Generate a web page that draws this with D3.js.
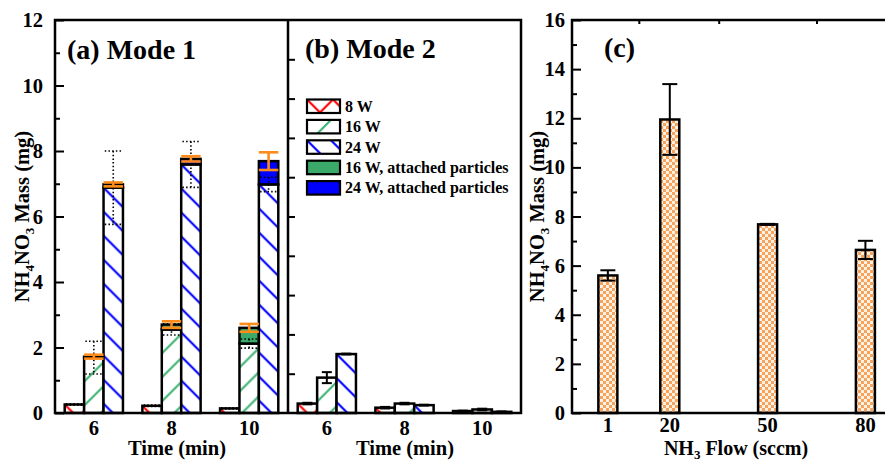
<!DOCTYPE html>
<html>
<head>
<meta charset="utf-8">
<script src="https://cdn.jsdelivr.net/npm/d3@7"></script>
<style>
  body { margin: 0; background: #fff; }
  svg { display: block; }
  text { font-family: "Liberation Serif", "Times New Roman", serif; font-weight: bold; fill: #000; }
</style>
</head>
<body>
<svg id="chart" width="885" height="460"></svg>
<script>
// ---- data -------------------------------------------------------------
const times = ["6", "8", "10"];
const powers = ["8 W", "16 W", "24 W"];

// Mode 1: hatched = deposit mass, solid = attached particles stacked on top
const m1_8W        = [0.26, 0.22, 0.14];
const m1_8W_err    = [0.02, 0.02, 0.02];
const m1_16W       = [1.69, 2.55, 2.12];
const m1_16W_err   = [0.50, 0.17, 0.14];
const m1_16W_att   = [0.03, 0.15, 0.48];
const m1_16W_totErr = [0.06, 0.10, 0.12];
const m1_24W       = [6.88, 7.59, 6.98];
const m1_24W_err   = [1.12, 0.70, 0.22];
const m1_24W_att   = [0.10, 0.17, 0.71];
const m1_24W_totErr = [0.06, 0.08, 0.27];

// Mode 2
const m2_8W      = [0.24, 0.135, 0.05];
const m2_16W     = [0.90, 0.24, 0.09];
const m2_24W     = [1.50, 0.20, 0.03];
const m2_8W_err  = [0.02, 0.02, 0.01];
const m2_16W_err = [0.14, 0.02, 0.02];
const m2_24W_err = [0.01, 0.01, 0.01];

// (c) NH3 flow series
const flows    = [1, 20, 50, 80];
const flowMass = [5.60, 11.95, 7.68, 6.64];
const flowErr  = [0.21, 1.44, 0.02, 0.37];

const yTicksA = [0, 2, 4, 6, 8, 10, 12];
const yMinorA = [1, 3, 5, 7, 9, 11];
const yTicksB = [1, 2, 3, 4, 5, 6, 7, 8, 9];
const yTicksC = [0, 2, 4, 6, 8, 10, 12, 14, 16];
const yMinorC = [1, 3, 5, 7, 9, 11, 13, 15];

const legendItems = [
  { label: "8 W", kind: "red" },
  { label: "16 W", kind: "green" },
  { label: "24 W", kind: "blue" },
  { label: "16 W, attached particles", kind: "greenFill" },
  { label: "24 W, attached particles", kind: "blueFill" }
];

// ---- layout -----------------------------------------------------------
const TOP = 20, BOT = 413;
const A_L = 55, A_R = 288, B_R = 521;
const C_L = 572, C_R = 898;
const FRAME_W = 2.5;
const TICK_FONT = 20.5;

const COLORS = { red: "#ff0000", green: "#3cb371", blue: "#0000ff",
                 greenFill: "#3aa96a", blueFill: "#0000ff", orange: "#ff8c1a",
                 checker: "#f8a35c" };

const svg = d3.select("#chart");
const defs = svg.append("defs");

// ---- hatch patterns, each anchored at the top-left of its shape -------
let patId = 0;
function hatch(kind, x0, y0) {
  const id = "hp" + (patId++);
  let size, d;
  if (kind === "red") {
    size = 26;
    d = "M0,0L13,13L26,0M0,26L13,13L26,26";
  } else if (kind === "green") {
    size = 24;
    d = "M0,24L24,0M-6,6L6,-6M18,30L30,18";
  } else {
    size = 24;
    d = "M0,0L24,24M-6,18L6,30M18,-6L30,6";
  }
  const p = defs.append("pattern").attr("id", id)
    .attr("patternUnits", "userSpaceOnUse")
    .attr("x", x0).attr("y", y0).attr("width", size).attr("height", size);
  p.append("rect").attr("width", size).attr("height", size).attr("fill", "#fff");
  p.append("path").attr("d", d).attr("fill", "none")
    .attr("stroke", COLORS[kind]).attr("stroke-width", 2.1);
  return "url(#" + id + ")";
}

function fillFor(kind, x0, y0) {
  if (kind === "greenFill" || kind === "blueFill") return COLORS[kind];
  return hatch(kind, x0, y0);
}

// checker fill for panel (c)
const chk = defs.append("pattern").attr("id", "checker")
  .attr("patternUnits", "userSpaceOnUse").attr("width", 6).attr("height", 6);
chk.append("rect").attr("width", 6).attr("height", 6).attr("fill", "#fff1e4");
chk.append("rect").attr("width", 3).attr("height", 3).attr("fill", COLORS.checker);
chk.append("rect").attr("x", 3).attr("y", 3).attr("width", 3).attr("height", 3).attr("fill", COLORS.checker);

// ---- scales -----------------------------------------------------------
const xA = d3.scaleBand().domain(times).range([A_L, A_R]).paddingInner(0.25).paddingOuter(0.125);
const xB = d3.scaleBand().domain(times).range([A_R, B_R]).paddingInner(0.25).paddingOuter(0.125);
const xSub = d3.scaleBand().domain(powers).range([0, xA.bandwidth()]);
const yA = d3.scaleLinear().domain([0, 12]).range([BOT, TOP]);
const yB = d3.scaleLinear().domain([0, 10]).range([BOT, TOP]);
const xC = d3.scaleLinear().domain([-10, 90]).range([C_L, C_R]);
const yC = d3.scaleLinear().domain([0, 16]).range([BOT, TOP]);

const bw = xSub.bandwidth();

// ---- generic drawing helpers -----------------------------------------
function drawRect(g, x, yTop, yBottom, fill) {
  g.append("rect")
    .attr("x", x).attr("y", yTop)
    .attr("width", bw).attr("height", Math.max(0, yBottom - yTop))
    .attr("fill", fill).attr("stroke", "#000").attr("stroke-width", 2.5);
}

function errBar(g, cx, y, v, e, half, style) {
  const y1 = y(v + e), y2 = y(v - e);
  const s = g.append("g").attr("fill", "none");
  if (style === "dotted") {
    s.attr("stroke", "#000").attr("stroke-width", 1.6).attr("stroke-dasharray", "1.5,2.2");
  } else if (style === "orange") {
    s.attr("stroke", COLORS.orange).attr("stroke-width", 2.6);
  } else {
    s.attr("stroke", "#000").attr("stroke-width", 2);
  }
  s.append("line").attr("x1", cx).attr("x2", cx).attr("y1", y1).attr("y2", y2);
  s.append("line").attr("x1", cx - half).attr("x2", cx + half).attr("y1", y1).attr("y2", y1);
  s.append("line").attr("x1", cx - half).attr("x2", cx + half).attr("y1", y2).attr("y2", y2);
}

// ---- panel (a): Mode 1 -------------------------------------------------
const gA = svg.append("g");
const gAerr = svg.append("g");
const seriesA = [
  { key: "8 W",  kind: "red",   base: m1_8W,  err: m1_8W_err,  att: null,       attKind: null,        tot: null },
  { key: "16 W", kind: "green", base: m1_16W, err: m1_16W_err, att: m1_16W_att, attKind: "greenFill", tot: m1_16W_totErr },
  { key: "24 W", kind: "blue",  base: m1_24W, err: m1_24W_err, att: m1_24W_att, attKind: "blueFill",  tot: m1_24W_totErr }
];
const orangeLayer = [];
seriesA.forEach(s => {
  times.forEach((t, i) => {
    const x = xA(t) + xSub(s.key);
    const cx = x + bw / 2;
    const yb = yA(s.base[i]);
    drawRect(gA, x, yb, yA(0), fillFor(s.kind, x, yb));
    if (s.att) {
      const total = s.base[i] + s.att[i];
      drawRect(gA, x, yA(total), yb, COLORS[s.attKind]);
      orangeLayer.push({ cx, total, e: s.tot[i] });
    }
    errBar(gAerr, cx, yA, s.base[i], s.err[i], 8.5, "dotted");
  });
});
orangeLayer.forEach(o => errBar(gAerr, o.cx, yA, o.total, o.e, bw / 2, "orange"));

// ---- panel (b): Mode 2 -------------------------------------------------
const gB = svg.append("g");
const seriesB = [
  { key: "8 W",  kind: "red",   v: m2_8W,  e: m2_8W_err },
  { key: "16 W", kind: "green", v: m2_16W, e: m2_16W_err },
  { key: "24 W", kind: "blue",  v: m2_24W, e: m2_24W_err }
];
seriesB.forEach(s => {
  times.forEach((t, i) => {
    const x = xB(t) + xSub(s.key);
    const yt = yB(s.v[i]);
    drawRect(gB, x, yt, yB(0), fillFor(s.kind, x, yt));
  });
});
seriesB.forEach(s => {
  times.forEach((t, i) => {
    const cx = xB(t) + xSub(s.key) + bw / 2;
    errBar(gB, cx, yB, s.v[i], s.e[i], 5, "solid");
  });
});

// ---- panel (c): NH3 flow ----------------------------------------------
const gC = svg.append("g");
const bwC = 19;
flows.forEach((f, i) => {
  gC.append("rect")
    .attr("x", xC(f) - bwC / 2).attr("y", yC(flowMass[i]))
    .attr("width", bwC).attr("height", yC(0) - yC(flowMass[i]))
    .attr("fill", "url(#checker)").attr("stroke", "#000").attr("stroke-width", 2.5);
});
flows.forEach((f, i) => errBar(gC, xC(f), yC, flowMass[i], flowErr[i], 7.5, "solid"));

// ---- frames ------------------------------------------------------------
svg.append("rect").attr("x", A_L).attr("y", TOP)
  .attr("width", B_R - A_L).attr("height", BOT - TOP)
  .attr("fill", "none").attr("stroke", "#000").attr("stroke-width", FRAME_W);
svg.append("line").attr("x1", A_R).attr("x2", A_R).attr("y1", TOP).attr("y2", BOT)
  .attr("stroke", "#000").attr("stroke-width", FRAME_W);
svg.append("path").attr("d", `M${C_R},${TOP}H${C_L}V${BOT}H${C_R}`)
  .attr("fill", "none").attr("stroke", "#000").attr("stroke-width", FRAME_W);

// ---- axes --------------------------------------------------------------
function styleAxis(g) {
  g.select(".domain").remove();
  g.selectAll(".tick line").attr("stroke", "#000").attr("stroke-width", 2);
  g.selectAll(".tick text").attr("font-size", TICK_FONT)
    .attr("font-family", "\"Liberation Serif\", \"Times New Roman\", serif")
    .attr("font-weight", "bold");
}

svg.append("g").attr("transform", `translate(${A_L},0)`)
  .call(d3.axisLeft(yA).tickValues(yTicksA).tickSizeInner(-9).tickSizeOuter(0).tickPadding(12))
  .call(styleAxis);
svg.append("g").attr("transform", `translate(${A_L},0)`)
  .call(d3.axisLeft(yA).tickValues(yMinorA).tickSize(-5).tickFormat(""))
  .call(styleAxis);
svg.append("g").attr("transform", `translate(${A_R},0)`)
  .call(d3.axisLeft(yB).tickValues(yTicksB).tickSize(-7).tickFormat(""))
  .call(styleAxis);
svg.append("g").attr("transform", `translate(${C_L},0)`)
  .call(d3.axisLeft(yC).tickValues(yTicksC).tickSizeInner(-9).tickSizeOuter(0).tickPadding(7))
  .call(styleAxis);
svg.append("g").attr("transform", `translate(${C_L},0)`)
  .call(d3.axisLeft(yC).tickValues(yMinorC).tickSize(-5).tickFormat(""))
  .call(styleAxis);
// small ticks on the top edge of (c), between the flow categories
svg.append("g").attr("transform", `translate(0,${TOP})`)
  .call(d3.axisTop(xC).tickValues(d3.pairs(flows).map(p => (p[0] + p[1]) / 2)).tickSize(-4).tickFormat(""))
  .call(styleAxis);

// category labels
svg.append("g").selectAll("text").data(times).join("text")
  .attr("x", d => xA(d) + xA.bandwidth() / 2).attr("y", 435)
  .attr("text-anchor", "middle").attr("font-size", TICK_FONT).text(d => d);
svg.append("g").selectAll("text").data(times).join("text")
  .attr("x", d => xB(d) + xB.bandwidth() / 2).attr("y", 435)
  .attr("text-anchor", "middle").attr("font-size", TICK_FONT).text(d => d);
svg.append("g").selectAll("text").data(flows).join("text")
  .attr("x", d => xC(d)).attr("y", 432)
  .attr("text-anchor", "middle").attr("font-size", TICK_FONT).text(d => d);

// axis titles
svg.append("text").attr("x", 177).attr("y", 455).attr("text-anchor", "middle")
  .attr("font-size", 20.5).text("Time (min)");
svg.append("text").attr("x", 405).attr("y", 455).attr("text-anchor", "middle")
  .attr("font-size", 20.5).text("Time (min)");
const xtC = svg.append("text").attr("x", 736).attr("y", 454.5).attr("text-anchor", "middle")
  .attr("font-size", 20);
xtC.append("tspan").text("NH");
xtC.append("tspan").attr("font-size", 13).attr("dy", 4).text("3");
xtC.append("tspan").attr("dy", -4).text(" Flow (sccm)");

function massLabel(x) {
  const t = svg.append("text")
    .attr("transform", `translate(${x},${(TOP + BOT) / 2}) rotate(-90)`)
    .attr("text-anchor", "middle").attr("font-size", 20.5);
  t.append("tspan").text("NH");
  t.append("tspan").attr("font-size", 13).attr("dy", 5).text("4");
  t.append("tspan").attr("dy", -5).text("NO");
  t.append("tspan").attr("font-size", 13).attr("dy", 5).text("3");
  t.append("tspan").attr("dy", -5).text(" Mass (mg)");
}
massLabel(29);
massLabel(544);

// panel titles
svg.append("text").attr("x", 67).attr("y", 59).attr("font-size", 28).text("(a) Mode 1");
svg.append("text").attr("x", 305).attr("y", 58).attr("font-size", 28).text("(b) Mode 2");
svg.append("text").attr("x", 604).attr("y", 57).attr("font-size", 28).text("(c)");

// ---- legend ------------------------------------------------------------
const LX = 307, LY = 99.5, LW = 33, LH = 13.5, LSTEP = 20.4;
legendItems.forEach((d, i) => {
  const y = LY + i * LSTEP;
  svg.append("rect").attr("x", LX).attr("y", y).attr("width", LW).attr("height", LH)
    .attr("fill", fillFor(d.kind, LX, y)).attr("stroke", "#000").attr("stroke-width", 2.2);
  svg.append("text").attr("x", LX + LW + 5).attr("y", y + LH / 2 + 5.5)
    .attr("font-size", 16).text(d.label);
});
</script>
</body>
</html>
